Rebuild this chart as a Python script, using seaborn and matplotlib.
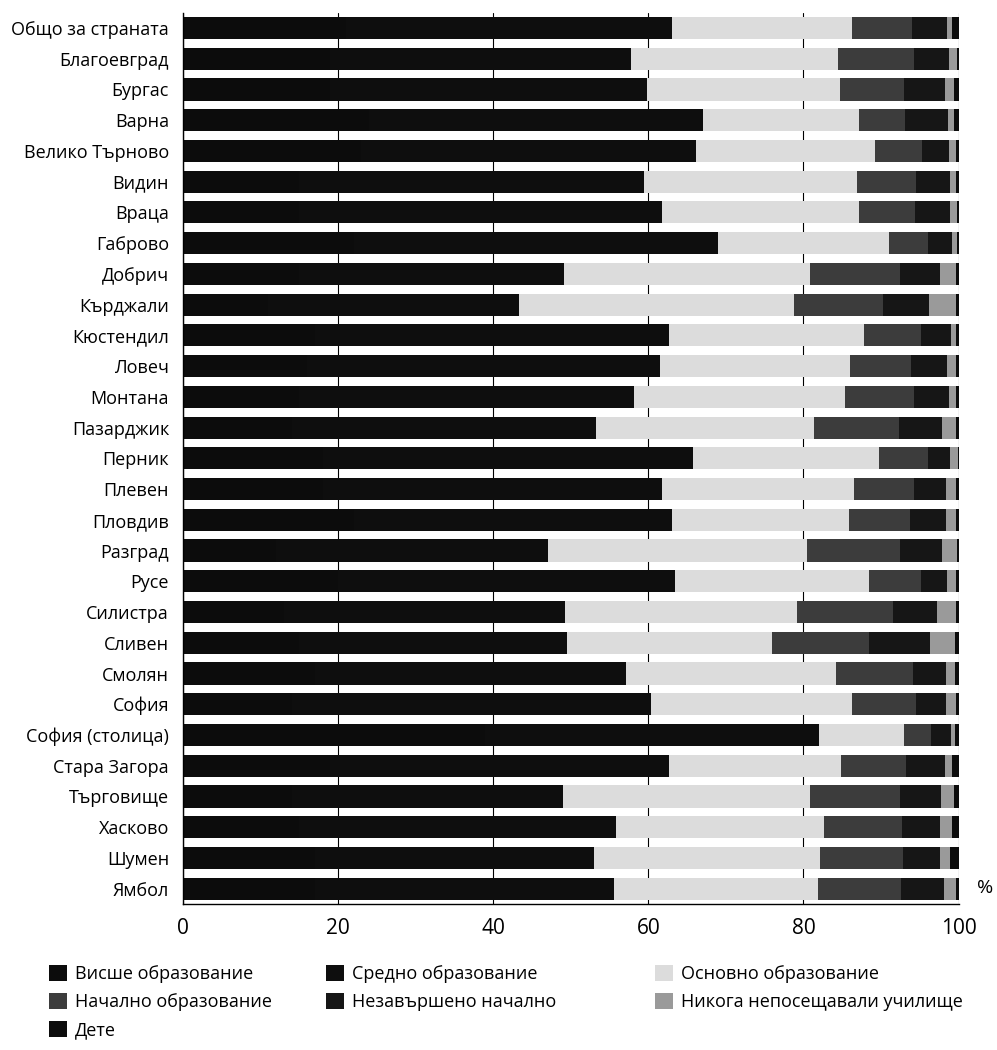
import matplotlib
matplotlib.use("Agg")
import matplotlib.pyplot as plt
import seaborn as sns
import numpy as np
import pandas as pd
from matplotlib.patches import Patch
from matplotlib.ticker import FixedLocator

regions = ["Общо за страната", "Благоевград", "Бургас", "Варна", "Велико Търново",
           "Видин", "Враца", "Габрово", "Добрич", "Кърджали", "Кюстендил", "Ловеч",
           "Монтана", "Пазарджик", "Перник", "Плевен", "Пловдив", "Разград", "Русе",
           "Силистра", "Сливен", "Смолян", "София", "София (столица)", "Стара Загора",
           "Търговище", "Хасково", "Шумен", "Ямбол"]

vishe      = [21, 19, 19, 24, 23, 15, 15, 22, 15, 11, 17, 16, 15, 14, 18, 18, 22, 12, 20,
              13, 15, 17, 14, 39, 19, 14, 15, 17, 17]
sredno     = [42.0, 38.8, 40.8, 43.0, 43.2, 44.5, 46.8, 47.0, 34.1, 32.3, 45.7, 45.5, 43.1,
              39.2, 47.7, 43.7, 41.0, 35.0, 43.4, 36.2, 34.5, 40.1, 46.3, 43.0, 43.6, 35.0,
              40.8, 36.0, 38.6]
osnovno    = [23.3, 26.7, 24.9, 20.2, 23.0, 27.4, 25.3, 22.0, 31.7, 35.5, 25.1, 24.5, 27.3,
              28.1, 24.0, 24.8, 22.9, 33.4, 25.0, 29.9, 26.4, 27.1, 26.0, 10.9, 22.2, 31.9,
              26.8, 29.1, 26.3]
nachalno   = [7.7, 9.7, 8.2, 5.9, 6.1, 7.6, 7.3, 5.1, 11.6, 11.4, 7.3, 7.8, 8.8, 11.0, 6.3,
              7.8, 7.8, 12.1, 6.7, 12.5, 12.6, 9.9, 8.2, 3.6, 8.4, 11.6, 10.1, 10.7, 10.7]
nezavarsh  = [4.5, 4.5, 5.4, 5.5, 3.4, 4.4, 4.5, 3.0, 5.2, 6.0, 3.9, 4.7, 4.5, 5.6, 2.9,
              4.1, 4.7, 5.4, 3.4, 5.6, 7.8, 4.3, 3.9, 2.5, 5.0, 5.2, 4.9, 4.8, 5.5]
nikoga     = [0.7, 1.1, 1.1, 0.8, 0.9, 0.7, 0.9, 0.7, 2.1, 3.5, 0.6, 1.2, 0.9, 1.8, 1.0,
              1.3, 1.3, 1.9, 1.1, 2.4, 3.2, 1.1, 1.2, 0.5, 1.0, 1.7, 1.6, 1.3, 1.5]
dete       = [0.8, 0.2, 0.6, 0.6, 0.4, 0.4, 0.2, 0.2, 0.3, 0.3, 0.4, 0.3, 0.4, 0.3, 0.1,
              0.3, 0.3, 0.2, 0.4, 0.4, 0.5, 0.5, 0.4, 0.5, 0.8, 0.6, 0.8, 1.1, 0.4]

series_names = ["Висше образование", "Средно образование", "Основно образование",
                "Начално образование", "Незавършено начално",
                "Никога непосещавали училище", "Дете"]
series_vals = [vishe, sredno, osnovno, nachalno, nezavarsh, nikoga, dete]
colors = ["#0c0c0c", "#0e0e0e", "#dcdcdc", "#3c3c3c", "#161616", "#9a9a9a", "#0c0c0c"]
x_ticks = [0, 20, 40, 60, 80, 100]

df = pd.DataFrame({"region": regions})
for name, vals in zip(series_names, series_vals):
    df[name] = vals

sns.set_theme(style="white")
plt.rcParams["font.family"] = ["Open Sans", "DejaVu Sans"]
plt.rcParams["text.color"] = "black"
plt.rcParams["xtick.color"] = "black"
plt.rcParams["ytick.color"] = "black"

fig = plt.figure(figsize=(9.97, 10.5), dpi=100)
ax = fig.add_axes([0.1835, 0.139, 0.778, 0.849])

cum = df[series_names].cumsum(axis=1)
for name, col in reversed(list(zip(series_names, colors))):
    sns.barplot(data=cum.assign(region=df["region"]), x=name, y="region",
                color=col, orient="h", width=0.72, ax=ax, saturation=1,
                linewidth=0, zorder=2)

ax.set_xlim(0, 100)
ax.set_ylim(len(regions) - 0.5, -0.5)
ax.set_xlabel("")
ax.set_ylabel("")
ax.set_xticks(x_ticks)
ax.set_xticklabels([str(t) for t in x_ticks], fontsize=15)
ax.tick_params(axis="x", direction="out", length=7, width=1, color="black",
               labelcolor="black", pad=3)
ax.tick_params(axis="y", which="major", length=0, labelsize=13, pad=10, labelcolor="black")
ax.yaxis.set_minor_locator(FixedLocator(np.arange(-0.5, len(regions), 1)))
ax.tick_params(axis="y", which="minor", direction="out", length=5, width=1, color="black")
ax.grid(axis="x", color="black", linewidth=0.8, zorder=0)
ax.set_axisbelow(True)
for s in ["top", "right"]:
    ax.spines[s].set_visible(False)
for s in ["left", "bottom"]:
    ax.spines[s].set_color("black")
    ax.spines[s].set_linewidth(1)

fig.text(0.988, 1 - 888 / 1050, "%", fontsize=14, ha="center", va="center", color="black")

handles = [Patch(facecolor=c, edgecolor="none") for c in colors]
cols = [[0, 3, 6], [1, 4], [2, 5]]
xs = [0.042, 0.32, 0.65]
for idx, x in zip(cols, xs):
    leg = fig.legend([handles[i] for i in idx], [series_names[i] for i in idx],
                     loc="upper left", bbox_to_anchor=(x, 0.088), frameon=False,
                     fontsize=13, handlelength=1.0, handleheight=1.0,
                     handletextpad=0.45, labelspacing=0.55, borderaxespad=0,
                     labelcolor="black")

fig.savefig("out.png", dpi=100)
